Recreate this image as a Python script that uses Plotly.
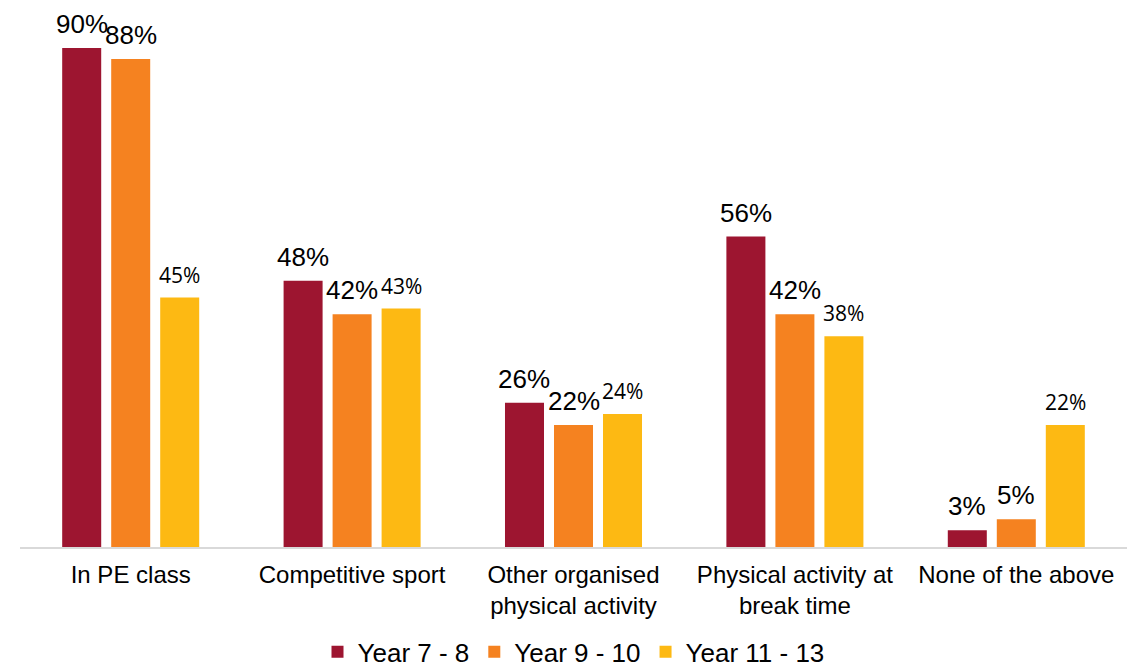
import plotly.graph_objects as go

categories = [
    "In PE class",
    "Competitive sport",
    "Other organised<br>physical activity",
    "Physical activity at<br>break time",
    "None of the above",
]
series_names = ["Year 7 - 8", "Year 9 - 10", "Year 11 - 13"]
year_7_8 = [90, 48, 26, 56, 3]
year_9_10 = [88, 42, 22, 42, 5]
year_11_13 = [45, 43, 24, 38, 22]

colors = ["#9D1530", "#F58220", "#FDB913"]
series_values = [year_7_8, year_9_10, year_11_13]

W, H = 1137, 668
margin = dict(l=20, r=10, t=20, b=121)
bargap = 0.336
bargroupgap = 0.204

fig = go.Figure()
for name, vals, col in zip(series_names, series_values, colors):
    fig.add_trace(go.Bar(
        x=categories, y=vals, name=name,
        marker=dict(color=col, line=dict(width=0)),
    ))

# value labels above each bar, shifted onto their bar within the group
plot_w = W - margin["l"] - margin["r"]
slot_px = plot_w / len(categories) * (1 - bargap) / len(series_values)
label_fonts = [
    dict(family="Arial, Liberation Sans", size=26, color="#000000"),
    dict(family="Arial, Liberation Sans", size=26, color="#000000"),
    dict(family="Open Sans", size=21, color="#000000"),
]
for i, vals in enumerate(series_values):
    for cat, v in zip(categories, vals):
        fig.add_annotation(
            x=cat, y=v, text=f"{v}%", showarrow=False,
            xref="x", yref="y", yanchor="bottom", xanchor="center",
            xshift=(i - 1) * slot_px, yshift=7,
            font=label_fonts[i],
        )

fig.update_layout(
    width=W, height=H,
    margin=margin,
    barmode="group", bargap=bargap, bargroupgap=bargroupgap,
    plot_bgcolor="white", paper_bgcolor="white",
    font=dict(family="Arial, Liberation Sans", size=24, color="#000000"),
    showlegend=True,
    legend=dict(
        orientation="h", x=0.5, xanchor="center",
        yref="container", y=0.024, yanchor="middle",
        font=dict(family="Arial, Liberation Sans", size=26, color="#000000"),
        itemwidth=30, tracegroupgap=0,
    ),
    xaxis=dict(
        showline=True, linecolor="#D9D9D9", linewidth=2,
        ticks="", showgrid=False, zeroline=False,
        ticklabelstandoff=5,
        tickfont=dict(family="Arial, Liberation Sans", size=24, color="#000000"),
    ),
    yaxis=dict(
        range=[0, 95.05], visible=False, showgrid=False, zeroline=False,
    ),
)

fig.write_html("out.html")
